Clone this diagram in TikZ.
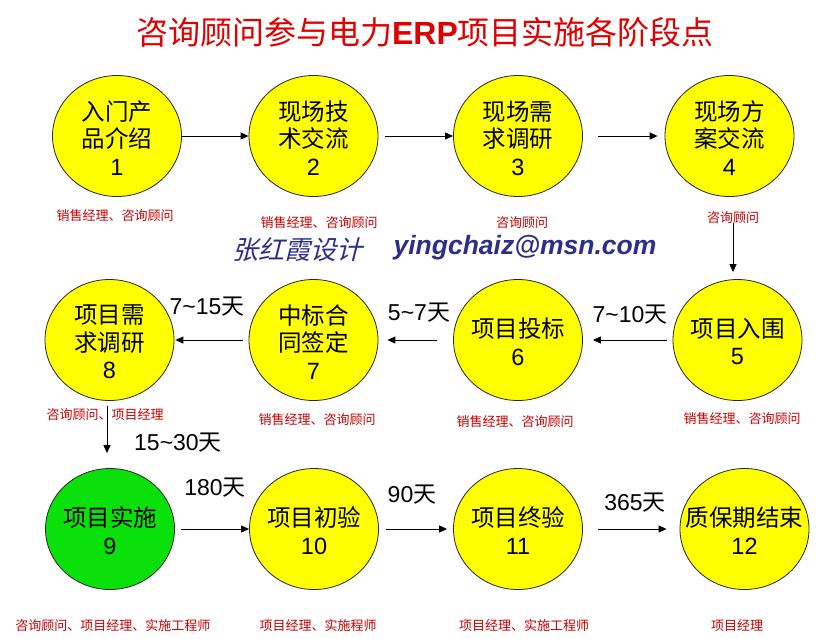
\documentclass[tikz,border=0pt]{standalone}
\usepackage{fontspec}
\usetikzlibrary{shapes.geometric,arrows.meta}
\setmainfont{Liberation Sans}
\newfontfamily\cjk{Noto Sans CJK SC}
\newfontfamily\cjkslant[FakeSlant=0.25]{Noto Sans CJK SC}
\newcommand\zh[1]{{\cjk #1}}
\definecolor{stageyellow}{RGB}{255,255,0}
\definecolor{stagegreen}{RGB}{10,225,10}
\definecolor{titlered}{RGB}{225,0,0}
\definecolor{rolered}{RGB}{200,0,0}
\definecolor{navy}{RGB}{45,45,140}
\tikzset{
  stage/.style={ellipse, draw=black!85, line width=0.8pt, fill=stageyellow,
    minimum width=129pt, minimum height=121pt, inner sep=0pt},
  stagetext/.style={align=center, font=\fontsize{23.5}{27.5}\selectfont, text=black, inner sep=0pt},
  role/.style={font=\cjk\fontsize{13}{15}\selectfont, text=rolered, inner sep=0pt},
  days/.style={font=\fontsize{23}{26}\selectfont, text=black, inner sep=0pt},
  arr/.style={-{Triangle[length=8pt,width=7pt]}, line width=0.9pt, black},
}
\begin{document}
\begin{tikzpicture}[x=1pt,y=-1pt]
\useasboundingbox (0,0) rectangle (840,638);
\fill[white] (0,0) rectangle (840,638);

% title
\node[inner sep=0pt, text=titlered, font=\fontsize{32}{34}\selectfont] (title) at (425,32)
  {\zh{咨询顾问参与电力}\textbf{ERP}\zh{项目实施各阶段点}};

% watermark
\node[inner sep=0pt, text=navy, font=\cjkslant\fontsize{26}{28}\selectfont] (sig) at (297,250) {张红霞设计};
\node[inner sep=0pt, text=navy, font=\bfseries\itshape\fontsize{26.5}{28}\selectfont] (mail) at (525,248) {yingchaiz@msn.com};

% stages row 1
\node[stage] (n1) at (117,136) {};
\node[stage] (n2) at (313.5,136) {};
\node[stage] (n3) at (518,136) {};
\node[stage] (n4) at (729.5,136) {};
% row 2
\node[stage] (n5) at (737.5,340) {};
\node[stage] (n6) at (518,340) {};
\node[stage] (n7) at (313.5,340) {};
\node[stage] (n8) at (109.5,340) {};
% row 3
\node[stage, fill=stagegreen] (n9) at (110,529) {};
\node[stage] (n10) at (314,529) {};
\node[stage] (n11) at (518,529) {};
\node[stage] (n12) at (744.5,529) {};

% stage texts
\node[stagetext] (t1) at ([yshift=-2pt]n1.center) {\zh{入门产}\\\zh{品介绍}\\1};
\node[stagetext] (t2) at ([yshift=-2pt]n2.center) {\zh{现场技}\\\zh{术交流}\\2};
\node[stagetext] (t3) at ([yshift=-2pt]n3.center) {\zh{现场需}\\\zh{求调研}\\3};
\node[stagetext] (t4) at ([yshift=-2pt]n4.center) {\zh{现场方}\\\zh{案交流}\\4};
\node[stagetext] (t5) at ([yshift=-1.5pt]n5.center) {\zh{项目入围}\\5};
\node[stagetext] (t6) at ([yshift=-1.5pt]n6.center) {\zh{项目投标}\\6};
\node[stagetext] (t7) at ([yshift=-2pt]n7.center) {\zh{中标合}\\\zh{同签定}\\7};
\node[stagetext] (t8) at ([yshift=-2pt]n8.center) {\zh{项目需}\\\zh{求调研}\\8};
\node[stagetext] (t9) at ([yshift=-1.5pt]n9.center) {\zh{项目实施}\\9};
\node[stagetext] (t10) at ([yshift=-1.5pt]n10.center) {\zh{项目初验}\\10};
\node[stagetext] (t11) at ([yshift=-1.5pt]n11.center) {\zh{项目终验}\\11};
\node[stagetext] (t12) at ([yshift=-1.5pt]n12.center) {\zh{质保期结束}\\12};

% roles
\node[role] (r1) at (115,216) {销售经理、咨询顾问};
\node[role] (r2) at (319,223) {销售经理、咨询顾问};
\node[role] (r3) at (522,223) {咨询顾问};
\node[role] (r4) at (733,218) {咨询顾问};
\node[role] (r5) at (742,419) {销售经理、咨询顾问};
\node[role] (r6) at (515,422) {销售经理、咨询顾问};
\node[role] (r7) at (317,420) {销售经理、咨询顾问};
\node[role] (r8) at (105,415) {咨询顾问、项目经理};
\node[role] (r9) at (113,626) {咨询顾问、项目经理、实施工程师};
\node[role] (r10) at (318,626) {项目经理、实施程师};
\node[role] (r11) at (524,626) {项目经理、实施工程师};
\node[role] (r12) at (737,626) {项目经理};

% day labels
\node[days] (d78) at (207,307) {7{\char"7E}15\zh{天}};
\node[days] (d67) at (419,313) {5{\char"7E}7\zh{天}};
\node[days] (d56) at (630,315) {7{\char"7E}10\zh{天}};
\node[days] (d89) at (178,443) {15{\char"7E}30\zh{天}};
\node[days] (d910) at (215,488) {180\zh{天}};
\node[days] (d1011) at (412,495) {90\zh{天}};
\node[days] (d1112) at (635,503) {365\zh{天}};

% connectors
\coordinate (v45) at (733,0);
\coordinate (v89) at (107,0);
\draw[arr] (n1.east) -- (n2.west);
\draw[arr, shorten <=7pt] (n2.east) -- (n3.west);
\draw[arr, shorten <=15pt, shorten >=7pt] (n3.east) -- (n4.west);
\draw[arr, shorten <=26pt, shorten >=7pt] (n4.south -| v45) -- (n5.north -| v45);
\draw[arr, shorten <=6pt, shorten >=10pt] (n5.west) -- (n6.east);
\draw[arr, shorten <=16pt, shorten >=9pt] (n6.west) -- (n7.east);
\draw[arr, shorten <=6pt, shorten >=1pt] (n7.west) -- (n8.east);
\draw[arr, shorten <=5pt, shorten >=15pt] (n8.south -| v89) -- (n9.north -| v89);
\draw[arr, shorten <=6pt] (n9.east) -- (n10.west);
\draw[arr, shorten <=7pt, shorten >=6pt] (n10.east) -- (n11.west);
\draw[arr, shorten <=15pt, shorten >=13pt] (n11.east) -- (n12.west);
\end{tikzpicture}
\end{document}
